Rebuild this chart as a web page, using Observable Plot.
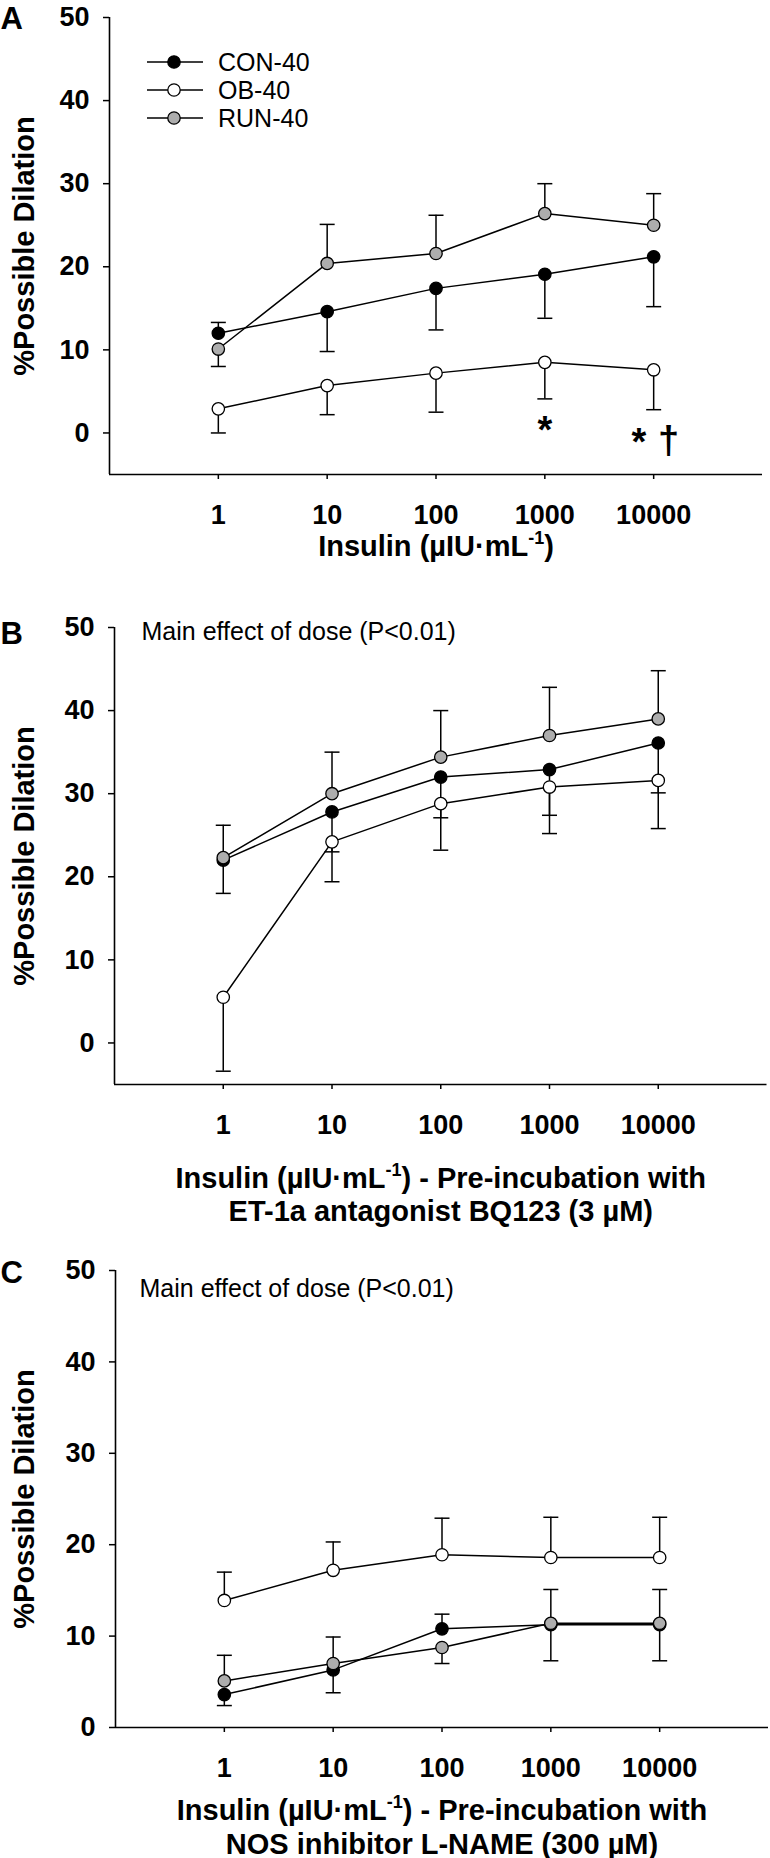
<!DOCTYPE html>
<html>
<head>
<meta charset="utf-8">
<script src="https://cdn.jsdelivr.net/npm/d3@7"></script>
<script src="https://cdn.jsdelivr.net/npm/@observablehq/plot@0.6"></script>
<style>
  body { margin: 0; background: #fff; }
  #chart { position: relative; width: 770px; height: 1858px; overflow: hidden; background: #fff; }
  .panel { position: absolute; left: 0; }
  #legend { position: absolute; left: 0; top: 0; }
</style>
</head>
<body>
<div id="chart"></div>
<script>
// ---------- data ----------
const doses = [1, 10, 100, 1000, 10000];
const xTicks = [1, 10, 100, 1000, 10000];
const yTicks = [0, 10, 20, 30, 40, 50];
const groups = ["OB-40", "CON-40", "RUN-40"];          // drawing order
const legendGroups = ["CON-40", "OB-40", "RUN-40"];    // legend order
const groupFills = ["#ffffff", "#000000", "#adadad"];

// Panel A – insulin alone
const conA = [12.0, 14.6, 17.4, 19.1, 21.2];
const conAErr = [13.3, 9.8, 12.4, 13.8, 15.2];
const obA = [2.9, 5.7, 7.2, 8.5, 7.6];
const obAErr = [0.0, 2.2, 2.5, 4.1, 2.8];
const runA = [10.1, 20.4, 21.6, 26.4, 25.0];
const runAErr = [8.0, 25.1, 26.2, 30.0, 28.8];
const sigLabels = ["*", "*", "\u2020"];
const sigX = [1000, 7300, 13700];
const sigY = [0.3, -1.15, -0.9];

// Panel B – BQ123
const conB = [22.0, 27.8, 32.0, 32.9, 36.1];
const conBErr = [18.0, 23.0, 27.1, 27.4, 30.1];
const obB = [5.5, 24.2, 28.8, 30.8, 31.6];
const obBErr = [-3.4, 19.4, 23.2, 25.2, 25.8];
const runB = [22.3, 30.0, 34.4, 37.0, 39.0];
const runBErr = [26.2, 35.0, 40.0, 42.8, 44.8];

// Panel C – L-NAME
const conC = [3.6, 6.3, 10.8, 11.25, 11.25];
const conCErr = [2.4, 3.8, 12.4, 7.3, 7.3];
const obC = [13.9, 17.2, 18.9, 18.6, 18.6];
const obCErr = [17.0, 20.3, 22.9, 23.0, 23.0];
const runC = [5.1, 7.0, 8.75, 11.4, 11.4];
const runCErr = [7.9, 9.9, 7.0, 15.1, 15.1];

const yTitle = "%Possible Dilation";
const noteText = "Main effect of dose (P<0.01)";
const titleA = ["Insulin (\u00B5IU\u00B7mL-1)"];
const titleB = ["Insulin (\u00B5IU\u00B7mL-1) - Pre-incubation with", "ET-1a antagonist BQ123 (3 \u00B5M)"];
const titleC = ["Insulin (\u00B5IU\u00B7mL-1) - Pre-incubation with", "NOS inhibitor L-NAME (300 \u00B5M)"];

// ---------- helpers ----------
const FONT = "'Liberation Sans', Arial, Helvetica, sans-serif";

function rows(group, mean, err) {
  return doses.map((d, i) => ({dose: d, group, y: mean[i], e: err[i]}));
}

const capSymbol = {
  draw(ctx) { ctx.moveTo(-7.5, 0); ctx.lineTo(7.5, 0); }
};

function makePanel(cfg) {
  const data = [
    ...rows("OB-40", cfg.ob, cfg.obErr),
    ...rows("CON-40", cfg.con, cfg.conErr),
    ...rows("RUN-40", cfg.run, cfg.runErr)
  ];
  const marks = [
    Plot.ruleY([cfg.yMin], {stroke: "#000", strokeWidth: 1.6}),
    Plot.ruleX([0.1], {y1: cfg.yMin, y2: 50, stroke: "#000", strokeWidth: 1.6}),
    Plot.axisX({ticks: xTicks, tickSize: 5, tickPadding: 25, tickFormat: d => String(d), label: null,
      fontSize: 27, fontWeight: "bold", strokeWidth: 1.5}),
    Plot.axisY({ticks: yTicks, tickSize: 6, tickPadding: 14, label: null,
      fontSize: 27, fontWeight: "bold", strokeWidth: 1.5}),
    // error bars
    Plot.ruleX(data, {x: "dose", y1: "y", y2: "e", stroke: "#000", strokeWidth: 1.5}),
    Plot.dot(data, {x: "dose", y: "e", symbol: capSymbol, stroke: "#000", fill: "none", strokeWidth: 1.5}),
    // lines
    Plot.line(data, {x: "dose", y: "y", z: "group", stroke: "#000", strokeWidth: 1.5}),
    // points
    Plot.dot(data, {x: "dose", y: "y", r: 6.2, fill: "group", stroke: "#000", strokeWidth: 1.3}),
    // y axis title
    Plot.text([yTitle], {frameAnchor: "left", rotate: -90, dx: 24 - cfg.ml, textAnchor: "middle",
      lineAnchor: "middle", fontSize: 29, fontWeight: "bold"}),
    // panel letter
    Plot.text([cfg.letter], {frameAnchor: "top-left", dx: -cfg.ml, dy: cfg.letterDy, textAnchor: "start",
      lineAnchor: "bottom", fontSize: 31, fontWeight: "bold"})
  ];
  cfg.title.forEach((t, i) => {
    marks.push(Plot.text([t], {frameAnchor: "bottom", dy: cfg.titleDy[i], textAnchor: "middle",
      lineAnchor: "bottom", fontSize: 29, fontWeight: "bold"}));
  });
  if (cfg.note) {
    marks.push(Plot.text([cfg.note], {frameAnchor: "top-left", dx: cfg.noteDx, dy: cfg.noteDy,
      textAnchor: "start", lineAnchor: "bottom", fontSize: 25, fontWeight: "normal"}));
  }
  if (cfg.sig) {
    marks.push(Plot.text(cfg.sig, {x: "x", y: "y", text: "t", lineAnchor: "middle",
      fontSize: 38, fontWeight: "bold"}));
  }
  const svg = Plot.plot({
    width: 770,
    height: cfg.height,
    marginTop: cfg.mt,
    marginBottom: cfg.mb,
    marginLeft: cfg.ml,
    marginRight: cfg.mr,
    style: {fontFamily: FONT, fontSize: "27px", fontWeight: "bold", background: "#fff", overflow: "visible", color: "#000"},
    x: {type: "log", domain: [0.1, 100000]},
    y: {domain: [cfg.yMin, 50]},
    color: {domain: groups, range: groupFills},
    marks
  });
  // superscript "-1"
  svg.querySelectorAll("text, tspan").forEach(el => {
    if (el.children.length === 0 && el.textContent.includes("mL-1")) {
      const full = el.textContent;
      const k = full.indexOf("mL-1");
      const before = full.slice(0, k + 2), after = full.slice(k + 4);
      el.textContent = before;
      const ns = "http://www.w3.org/2000/svg";
      const sup = document.createElementNS(ns, "tspan");
      sup.setAttribute("dy", "-12");
      sup.setAttribute("font-size", "18");
      sup.textContent = "-1";
      const rest = document.createElementNS(ns, "tspan");
      rest.setAttribute("dy", "12");
      rest.textContent = after;
      el.appendChild(sup);
      el.appendChild(rest);
    }
  });
  const wrap = document.createElement("div");
  wrap.className = "panel";
  wrap.style.top = cfg.top + "px";
  wrap.appendChild(svg);
  return wrap;
}

const chart = document.getElementById("chart");

chart.appendChild(makePanel({
  letter: "A", top: 0, height: 590, mt: 17, mb: 116, ml: 109, mr: 8, yMin: -5,
  con: conA, conErr: conAErr, ob: obA, obErr: obAErr, run: runA, runErr: runAErr,
  title: titleA, titleDy: [81], letterDy: 11,
  sig: sigLabels.map((t, i) => ({t, x: sigX[i], y: sigY[i]}))
}));

chart.appendChild(makePanel({
  letter: "B", top: 590, height: 645, mt: 37, mb: 151, ml: 114, mr: 3.5, yMin: -5,
  con: conB, conErr: conBErr, ob: obB, obErr: obBErr, run: runB, runErr: runBErr,
  title: titleB, titleDy: [103, 136], letterDy: 16,
  note: noteText, noteDx: 27, noteDy: 12
}));

chart.appendChild(makePanel({
  letter: "C", top: 1235, height: 623, mt: 35, mb: 131, ml: 115, mr: 2, yMin: 0,
  con: conC, conErr: conCErr, ob: obC, obErr: obCErr, run: runC, runErr: runCErr,
  title: titleC, titleDy: [92, 126], letterDy: 12,
  note: noteText, noteDx: 24, noteDy: 26
}));

// ---------- legend (panel A) ----------
const fillOf = Object.fromEntries(groups.map((g, i) => [g, groupFills[i]]));
const lg = d3.select(chart).append("svg")
  .attr("id", "legend").attr("width", 330).attr("height", 140)
  .style("font-family", FONT).style("font-size", "25px");
const row = lg.selectAll("g").data(legendGroups).join("g")
  .attr("transform", (d, i) => `translate(0,${62 + i * 28})`);
row.append("line").attr("x1", 147).attr("x2", 203).attr("stroke", "#000").attr("stroke-width", 1.5);
row.append("circle").attr("cx", 174).attr("r", 6.2).attr("fill", d => fillOf[d]).attr("stroke", "#000").attr("stroke-width", 1.3);
row.append("text").attr("x", 218).attr("dy", "0.36em").text(d => d);
</script>
</body>
</html>
